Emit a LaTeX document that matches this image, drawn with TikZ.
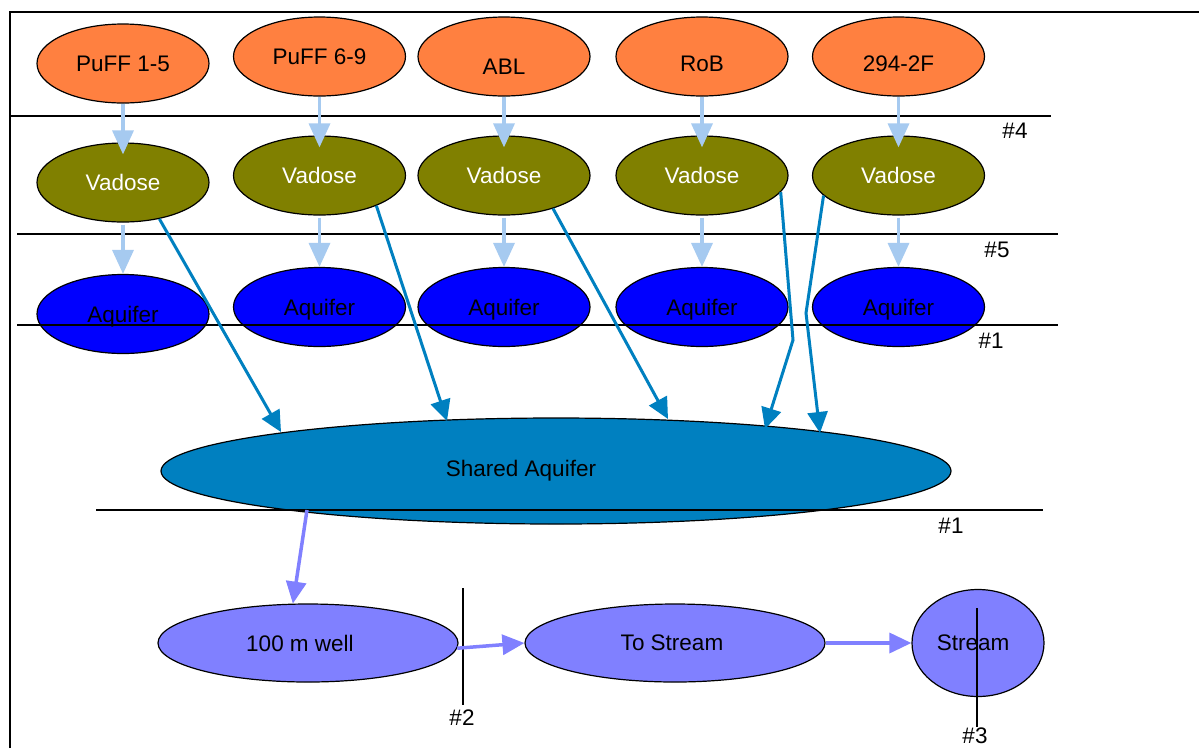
\documentclass[tikz,border=0pt]{standalone}
\usepackage{fontspec}
\setmainfont{Liberation Sans}
\usetikzlibrary{shapes.geometric,arrows.meta,calc}
\definecolor{srcorange}{RGB}{255,128,64}
\definecolor{vadolive}{RGB}{128,128,0}
\definecolor{aqblue}{RGB}{0,0,255}
\definecolor{shblue}{RGB}{0,128,192}
\definecolor{lightarr}{RGB}{166,202,240}
\definecolor{lilac}{RGB}{128,128,255}
\begin{document}
\begin{tikzpicture}[x=1pt,y=-1pt,
  txt/.style={font=\fontsize{22.5}{27}\selectfont, inner sep=0pt},
  blob/.style={ellipse, draw=black, line width=1.2pt, inner sep=0pt,
    minimum width=172pt, minimum height=79pt, font=\fontsize{22.5}{27}\selectfont},
  src/.style={blob, fill=srcorange},
  vad/.style={blob, fill=vadolive, text=white},
  aq/.style={blob, fill=aqblue, text depth=0pt},
  low/.style={blob, fill=lilac, minimum width=300pt, minimum height=78pt},
  divider/.style={line width=1.2pt},
  lightflow/.style={draw=lightarr, line width=3.5pt, -{Triangle[length=24pt,width=21pt]}},
  deepflow/.style={draw=shblue, line width=3pt, -{Triangle[length=21pt,width=20pt]}},
  lilacflow/.style={draw=lilac, line width=3.5pt, -{Triangle[length=22pt,width=20pt]}}]
\useasboundingbox (0,0) rectangle (1199,748);

% frame
\draw[line width=1.5pt] (10,748) -- (10,12) -- (1199,12);

% sources
\node[src] (p1) at (123,63.5) {PuFF 1-5};
\node[src] (p2) at (319.5,56.5) {PuFF 6-9};
\node[src, label={[txt,yshift=-10pt]center:ABL}] (p3) at (504,56.5) {};
\node[src, label={[txt,yshift=-7pt]center:RoB}] (p4) at (702,56.5) {};
\node[src, label={[txt,yshift=-7pt]center:294-2F}] (p5) at (898.5,56.5) {};

% vadose
\node[vad] (v1) at (123,182.5) {Vadose};
\node[vad] (v2) at (319.5,175.5) {Vadose};
\node[vad] (v3) at (504,175.5) {Vadose};
\node[vad] (v4) at (702,175.5) {Vadose};
\node[vad] (v5) at (898.5,175.5) {Vadose};

% aquifers
\node[aq] (a1) at (123,314) {Aquifer};
\node[aq] (a2) at (319.5,307) {Aquifer};
\node[aq] (a3) at (504,307) {Aquifer};
\node[aq] (a4) at (702,307) {Aquifer};
\node[aq] (a5) at (898.5,307) {Aquifer};

% shared aquifer
\node[blob, fill=shblue, minimum width=790pt, minimum height=106pt,
  label={[txt,xshift=-35pt]center:Shared Aquifer}] (sa) at (556,471) {};

% lower row
\node[low, label={[txt,xshift=-8pt]center:100 m well}] (well) at (308,643) {};
\node[low, label={[txt,xshift=-3pt]center:To Stream}] (ts) at (675,643) {};
\node[low, minimum width=132pt, minimum height=107pt,
  label={[txt,xshift=-5pt]center:Stream}] (st) at (978,643) {};

% dividers
\draw[divider] (10,116) -- (1051,116);
\draw[divider] (17,234) -- (1058,234);
\draw[divider] (17,325) -- (1058,325);
\draw[divider] (96,510) -- (1043,510);
\draw[divider] (463,588) -- (463,705);
\draw[divider] (977,608) -- (977,727);

\node[txt] (l4) at (1015,131) {\#4};
\node[txt] (l5) at (997,250) {\#5};
\node[txt] (l1a) at (991,341) {\#1};
\node[txt] (l1b) at (951,526) {\#1};
\node[txt] (l2) at (462,718) {\#2};
\node[txt] (l3) at (975,736) {\#3};

% light arrows
\foreach \i in {1,...,5}{
  \draw[lightflow, shorten >=-12pt] (p\i.south) -- (v\i.north);
  \draw[lightflow, shorten <=2pt] (v\i.south) -- (a\i.north);
}

% deep arrows to shared aquifer
\coordinate (b4) at (793,340);
\coordinate (b5) at (806,313);
\draw[deepflow] (v1.-45) -- ($(sa.center)+(-275,-39)$);
\draw[deepflow] (v2.-28.2) -- ($(sa.center)+(-109,-50)$);
\draw[deepflow] (v3.-34.8) -- ($(sa.center)+(112,-52)$);
\draw[deepflow] (v4.-12.3) -- (b4) -- ($(sa.center)+(209,-42)$);
\draw[deepflow] (v5.195.5) -- (b5) -- ($(sa.center)+(264,-38)$);

% lower flows
\draw[lilacflow] ($(sa.center)+(-249,39)$) -- (well.111);
\draw[lilacflow] (well.-2.3) -- (ts.west);
\draw[lilacflow] (ts.east) -- (st.west);
\end{tikzpicture}
\end{document}
